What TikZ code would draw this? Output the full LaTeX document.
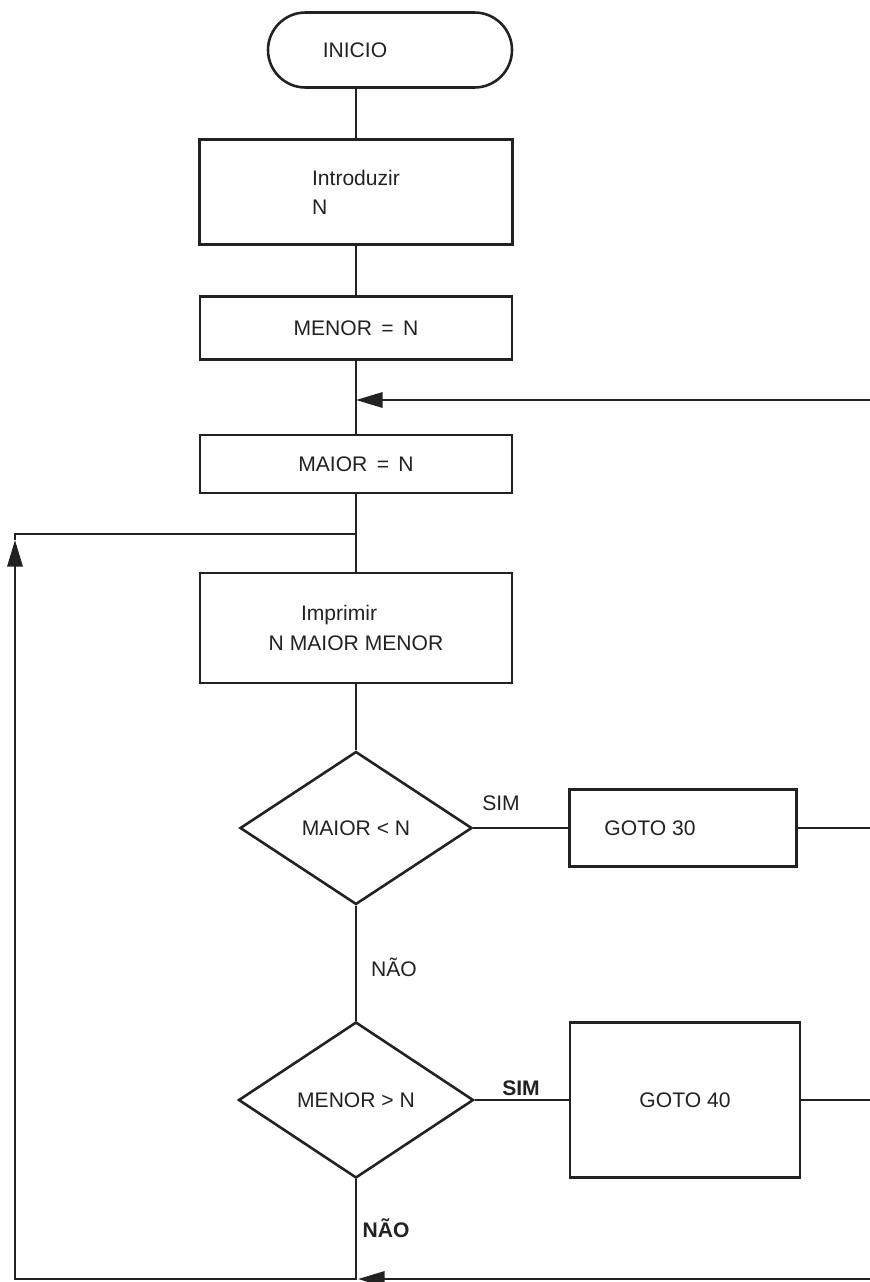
\documentclass[tikz,border=0pt]{standalone}
\usepackage{fontspec}
\setmainfont{Liberation Sans}
\usetikzlibrary{shapes.geometric,shapes.misc,arrows.meta}
\newlength\pxu
\setlength\pxu{0.3mm}
\definecolor{ink}{HTML}{222222}
\begin{document}
\begin{tikzpicture}[x=0.3mm,y=-0.3mm,
  every node/.style={font=\fontsize{18}{25}\selectfont, text=ink},
  term/.style={draw=ink, rounded rectangle, line width=2.2pt, inner sep=0pt,
    minimum width=244\pxu, minimum height=75\pxu},
  box/.style={draw=ink, rectangle, line width=2.2pt, inner sep=0pt},
  dec/.style={draw=ink, diamond, line width=2.2pt, inner sep=0pt},
  conn/.style={draw=ink, line width=2pt},
  arr/.style={conn, -{Triangle[length=8mm,width=4.6mm]}},
  lbl/.style={inner sep=0pt}]
\useasboundingbox (0,0) rectangle (869,1282);

% nodes
\node[term] (start) at (390,50) {};
\node[lbl] (starttxt) at (355,50) {INICIO};
\node[box, minimum width=313\pxu, minimum height=105\pxu, align=left] (intro) at (356,192) {Introduzir\\N};
\node[box, minimum width=312\pxu, minimum height=63\pxu] (menor) at (356,328) {MENOR \,=\, N};
\node[box, minimum width=312\pxu, minimum height=58\pxu] (maior) at (356,464) {MAIOR \,=\, N};
\node[box, minimum width=312\pxu, minimum height=110\pxu, align=center] (print) at (356,628) {Imprimir\hspace*{1.6em}\\N MAIOR MENOR};
\node[dec, minimum width=232\pxu, minimum height=153\pxu] (d1) at (356,828) {MAIOR < N};
\node[box, minimum width=227\pxu, minimum height=77\pxu] (goto30) at (683,828) {};
\node[lbl] (goto30txt) at (650,828) {GOTO 30};
\node[dec, minimum width=235\pxu, minimum height=156\pxu] (d2) at (356,1100) {MENOR > N};
\node[box, minimum width=230\pxu, minimum height=155\pxu] (goto40) at (685,1100) {GOTO 40};

% labels
\node[lbl] (sim1) at (501,803) {SIM};
\node[lbl] (nao1) at (394,967) {NÃO};
\node[lbl, font=\fontsize{18}{25}\selectfont\bfseries] (sim2) at (521,1088) {SIM};
\node[lbl, font=\fontsize{18}{25}\selectfont\bfseries] (nao2) at (386,1228) {NÃO};

% coordinates
\coordinate (j30) at (356,400);
\coordinate (r30a) at (885,828);
\coordinate (r30b) at (885,400);
\coordinate (j40) at (356,534);
\coordinate (r40a) at (885,1100);
\coordinate (r40b) at (885,1279);
\coordinate (bj) at (358,1279);
\coordinate (bl) at (15,1279);
\coordinate (ltip) at (15,540);
\coordinate (lc) at (15,534);

% main flow
\draw[conn] (intro.north |- start.south) -- (intro.north);
\draw[conn] (intro.south) -- (menor.north);
\draw[conn] (menor.south) -- (maior.north);
\draw[conn] (maior.south) -- (print.north);
\draw[conn] (print.south) -- (d1.north);
\draw[conn] (d1.south) -- (d2.north);
\draw[conn] (d1.east) -- (goto30.west);
\draw[conn] (d2.east) -- (goto40.west);

% GOTO 30 loop
\draw[arr] (goto30.east) -- (r30a) -- (r30b) -- (j30);

% GOTO 40 loop and NAO branch
\draw[arr] (goto40.east) -- (r40a) -- (r40b) -- (bj);
\draw[arr] (d2.south) -- (d2.south |- bl) -- (bl) -- (ltip);
\draw[conn] (ltip) -- (lc) -- (j40);
\end{tikzpicture}
\end{document}
